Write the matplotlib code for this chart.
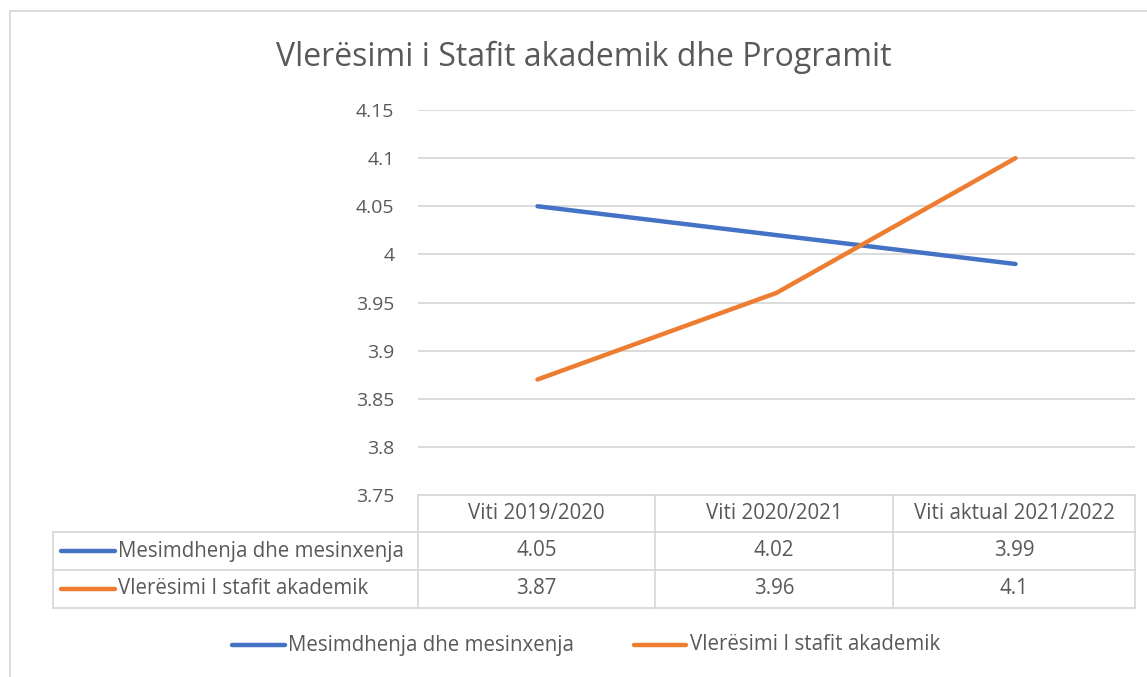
import matplotlib
matplotlib.use("Agg")
import matplotlib.pyplot as plt
from matplotlib.lines import Line2D

categories = ["Viti 2019/2020", "Viti 2020/2021", "Viti aktual 2021/2022"]
series_names = ["Mesimdhenja dhe mesinxenja", "Vlerësimi I stafit akademik"]
mesimdhenja = [4.05, 4.02, 3.99]
vleresimi = [3.87, 3.96, 4.1]
value_labels = [["4.05", "4.02", "3.99"], ["3.87", "3.96", "4.1"]]
yticks = [3.75, 3.8, 3.85, 3.9, 3.95, 4.0, 4.05, 4.1, 4.15]
ytick_labels = ["3.75", "3.8", "3.85", "3.9", "3.95", "4", "4.05", "4.1", "4.15"]

colors = ["#4472C4", "#ED7D31"]
grid_c = "#D9D9D9"
text_c = "#595959"
FONT = "Open Sans"
plt.rcParams["font.family"] = [FONT, "DejaVu Sans"]
TFS = 14.8

W, H = 1147, 677
fig = plt.figure(figsize=(W / 100, H / 100), dpi=100)

def fx(px):
    return px / W

def fy(py):
    return 1 - py / H

ax_l, ax_r, ax_t, ax_b = 418, 1135, 110, 495
ax = fig.add_axes([fx(ax_l), fy(ax_b), fx(ax_r) - fx(ax_l), fy(ax_t) - fy(ax_b)])
ax.set_xlim(-0.5, 2.5)
ax.set_ylim(3.75, 4.15)
ax.set_yticks(yticks)
ax.set_yticklabels(ytick_labels, fontsize=14, color=text_c)
ax.set_xticks([])
ax.tick_params(axis="y", length=0, pad=17)
for s in ax.spines.values():
    s.set_visible(False)
ax.grid(axis="y", color=grid_c, linewidth=1.3)
ax.set_axisbelow(True)

x = list(range(len(categories)))
ax.plot(x, mesimdhenja, color=colors[0], linewidth=3.2, solid_capstyle="round", zorder=3)
ax.plot(x, vleresimi, color=colors[1], linewidth=3.2, solid_capstyle="round", zorder=3)

# Title
fig.text(fx(584), fy(57), "Vlerësimi i Stafit akademik dhe Programit", ha="center", va="center",
         fontsize=23, color=text_c)

# Data table
col_edges = [418, 655, 893, 1135]
row_edges = [495, 532, 570, 608]
tbl_left = 53

def hline(x0, x1, y):
    fig.add_artist(Line2D([fx(x0), fx(x1)], [fy(y), fy(y)], color=grid_c, linewidth=1.3))

def vline(x0, y0, y1):
    fig.add_artist(Line2D([fx(x0), fx(x0)], [fy(y0), fy(y1)], color=grid_c, linewidth=1.3))

hline(col_edges[0], col_edges[-1], row_edges[0])
for y in row_edges[1:]:
    hline(tbl_left, col_edges[-1], y)
for xe in col_edges:
    vline(xe, row_edges[0], row_edges[-1])
vline(tbl_left, row_edges[1], row_edges[-1])

for i, cat in enumerate(categories):
    cx = (col_edges[i] + col_edges[i + 1]) / 2
    cy = (row_edges[0] + row_edges[1]) / 2
    fig.text(fx(cx), fy(cy), cat, ha="center", va="center", fontsize=TFS, color=text_c)

for r in range(2):
    cy = (row_edges[r + 1] + row_edges[r + 2]) / 2
    fig.add_artist(Line2D([fx(61), fx(115)], [fy(cy), fy(cy)], color=colors[r], linewidth=3.2,
                          solid_capstyle="round"))
    fig.text(fx(118), fy(cy), series_names[r], ha="left", va="center", fontsize=TFS, color=text_c)
    for i in range(3):
        cx = (col_edges[i] + col_edges[i + 1]) / 2
        fig.text(fx(cx), fy(cy), value_labels[r][i], ha="center", va="center", fontsize=TFS,
                 color=text_c)

# Legend
leg_y = 645
for (lx0, lx1, tx), name, c in zip([(232, 285, 288), (634, 686, 690)], series_names, colors):
    fig.add_artist(Line2D([fx(lx0), fx(lx1)], [fy(leg_y), fy(leg_y)], color=c, linewidth=3.2,
                          solid_capstyle="round"))
    fig.text(fx(tx), fy(leg_y), name, ha="left", va="center", fontsize=TFS, color=text_c)

# Chart border
fig.add_artist(Line2D([fx(10), fx(W)], [fy(11), fy(11)], color=grid_c, linewidth=1.3))
fig.add_artist(Line2D([fx(10), fx(10)], [fy(11), fy(H)], color=grid_c, linewidth=1.3))

fig.savefig("out.png", dpi=100, facecolor="white")
